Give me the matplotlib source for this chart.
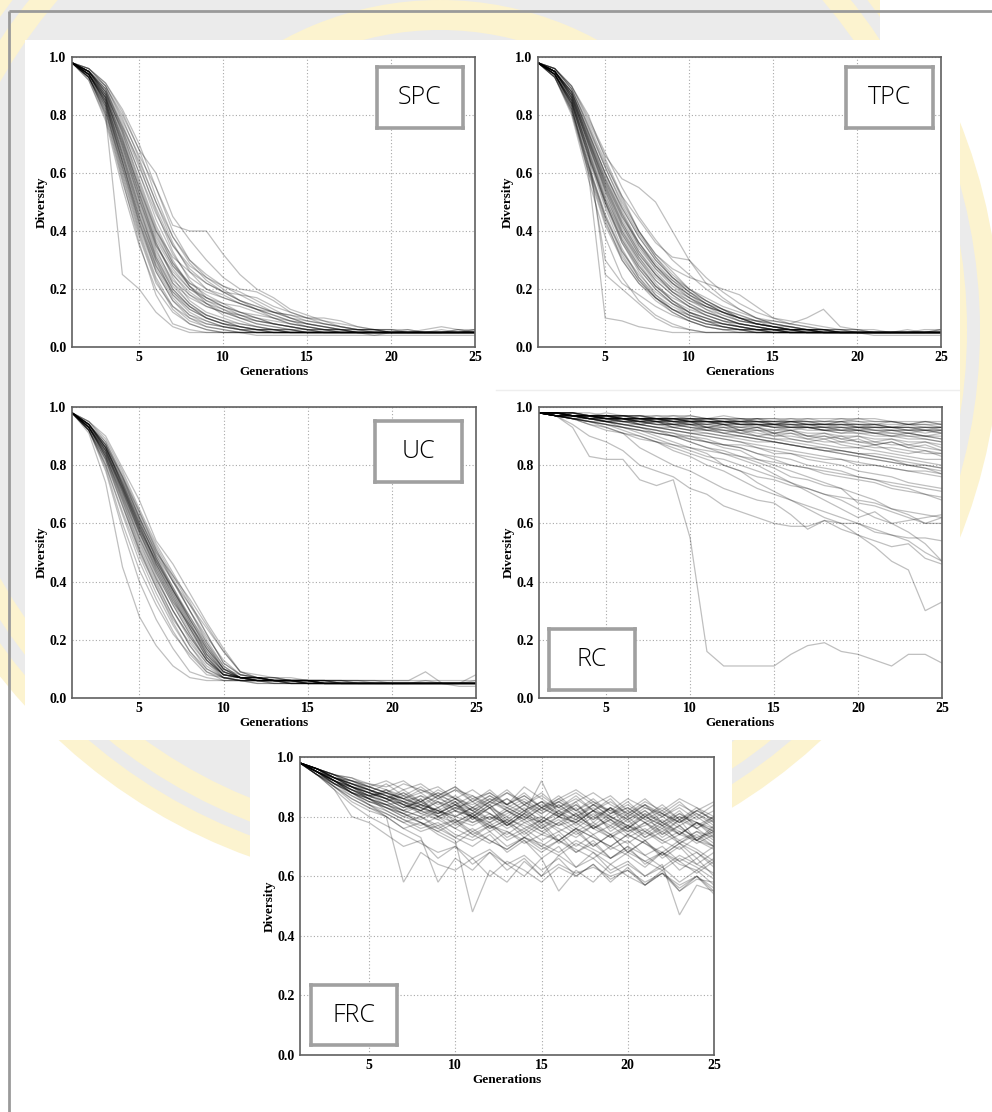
import numpy as np
import matplotlib
matplotlib.use("Agg")
import matplotlib.pyplot as plt
from matplotlib.patches import Rectangle, Circle, Wedge

# ---------------- data (diversity x100, generations 1..25) ----------------
GENERATIONS = list(range(1, 26))
X_TICKS = [5, 10, 15, 20, 25]
Y_TICKS = [0.0, 0.2, 0.4, 0.6, 0.8, 1.0]
Y_TICK_LABELS = ["0.0", "0.2", "0.4", "0.6", "0.8", "1.0"]
PANEL_LABELS = ["SPC", "TPC", "UC", "RC", "FRC"]

SPC_RUNS = [
    "98 94 85 68 50 34 22 15 11 09 07 06 06 05 05 05 05 05 05 05 05 05 05 05 05",
    "98 95 88 74 58 42 30 21 15 11 09 07 06 06 05 05 05 05 05 05 06 05 05 05 06",
    "98 92 78 55 35 20 12 08 06 05 05 05 05 05 05 05 05 05 05 05 05 05 05 05 05",
    "98 93 80 25 20 12 07 05 05 05 05 05 05 05 05 05 05 05 04 05 05 05 05 05 05",
    "98 95 90 78 66 55 42 40 40 32 25 20 17 13 11 09 07 06 06 05 05 05 05 05 05",
    "98 96 90 80 68 60 45 37 30 24 20 19 16 12 10 08 07 06 06 06 05 05 05 06 06",
    "98 94 84 64 45 30 20 14 10 08 07 06 06 06 05 05 05 05 05 05 05 05 05 05 05",
    "98 93 82 60 40 24 14 09 07 06 05 05 05 05 05 05 05 05 05 05 05 05 05 05 05",
    "98 95 87 72 54 38 28 22 18 15 12 10 08 07 06 06 05 05 05 05 05 05 05 05 05",
    "98 94 86 70 52 36 25 18 14 12 11 10 09 08 07 06 06 05 05 05 05 05 05 05 05",
    "98 95 89 76 62 48 35 27 22 19 18 17 14 12 10 09 08 07 06 06 06 05 05 05 05",
    "98 93 80 58 36 18 08 06 05 05 05 05 05 05 05 05 05 05 05 05 05 05 05 05 05",
    "98 94 85 66 46 30 18 12 09 07 06 06 05 05 05 05 05 05 05 05 05 05 05 05 05",
    "98 96 91 82 70 55 40 30 24 20 16 14 12 11 10 10 09 07 06 06 05 05 06 05 05",
    "98 94 83 63 44 28 18 13 10 08 07 06 06 05 05 05 05 05 05 05 05 05 05 05 05",
    "98 95 88 73 56 40 31 26 22 19 16 13 10 08 07 06 06 05 05 05 05 05 05 05 05",
    "98 93 81 62 42 27 17 11 08 07 06 05 05 05 05 05 05 05 05 05 05 05 05 05 05",
    "98 95 86 69 51 35 26 20 17 15 14 12 10 09 08 07 06 06 05 05 05 05 05 05 05",
    "98 94 87 75 60 44 32 24 20 18 15 13 11 09 08 07 06 06 06 05 05 06 07 06 05",
    "98 92 79 57 38 22 14 10 08 07 06 05 05 05 05 05 05 05 05 05 05 05 05 05 05",
    "98 95 86 70 53 36 24 16 12 10 08 07 06 05 05 05 05 05 05 05 05 05 05 05 05",
    "98 94 84 66 48 32 22 17 14 12 10 08 07 06 06 05 05 05 05 05 05 05 05 05 05",
    "98 93 83 64 43 26 16 10 07 06 05 04 04 04 04 04 04 04 04 04 04 04 04 04 04",
    "98 95 88 76 64 50 38 30 25 21 18 15 12 10 09 08 07 06 06 05 05 05 05 05 05",
    "98 94 86 71 55 40 29 21 16 13 10 08 07 06 05 05 05 05 05 05 05 05 05 05 05",
    "98 95 89 77 63 47 33 23 17 14 12 10 08 07 06 05 05 05 05 05 05 05 05 05 05",
    "98 93 82 61 41 26 16 11 09 07 06 06 05 05 05 05 05 05 05 05 05 05 05 05 05",
    "98 94 85 67 49 33 23 18 15 13 11 09 08 07 06 06 05 05 05 05 05 05 05 05 05",
    "98 96 90 79 65 50 36 26 20 17 15 13 12 11 09 08 07 06 06 05 05 05 05 05 05",
    "98 94 84 65 47 31 21 15 11 09 08 07 06 06 05 05 05 05 05 05 05 05 05 05 05",
    "98 95 87 71 53 37 27 20 16 14 12 11 10 08 07 06 06 05 05 05 05 05 05 06 05",
    "98 93 81 59 39 23 13 08 06 05 05 05 05 05 05 05 05 05 05 05 05 05 05 05 05",
    "98 95 88 74 57 41 29 22 19 17 15 13 11 09 07 06 06 05 05 05 05 05 05 05 05",
    "98 94 86 69 51 35 25 19 15 12 10 09 08 07 06 06 05 05 05 05 05 05 05 05 06",
    "98 96 91 81 68 52 38 29 23 19 16 14 12 10 08 07 06 06 05 05 05 05 05 05 05",
    "98 93 83 62 43 28 19 14 11 09 07 06 05 05 05 05 05 05 05 05 05 05 05 05 05",
    "98 95 87 72 55 39 28 21 17 14 11 09 08 07 06 05 05 05 05 05 05 05 05 05 05",
    "98 94 85 67 48 31 20 14 10 08 06 05 05 05 05 05 05 05 05 05 05 05 05 05 05",
    "98 95 89 75 60 46 35 28 24 21 19 16 13 10 08 07 06 05 05 05 05 05 05 05 05",
    "98 94 84 64 45 29 19 13 10 08 07 06 06 05 05 05 05 05 05 05 05 05 05 05 05",
]

TPC_RUNS = [
    "98 95 86 70 54 40 30 22 16 12 10 08 07 06 06 05 05 05 05 05 05 05 05 05 05",
    "98 94 83 60 10 09 07 06 05 05 05 05 05 05 05 05 05 05 05 05 05 05 05 05 05",
    "98 95 85 68 25 20 15 10 07 06 05 05 05 05 05 05 05 05 05 05 05 05 05 05 05",
    "98 96 90 78 66 58 55 50 40 30 22 17 13 10 09 08 07 06 06 06 06 05 05 06 06",
    "98 95 88 75 62 50 40 32 26 20 16 13 10 08 07 06 06 06 05 05 05 05 05 05 05",
    "98 94 84 66 50 36 26 18 13 10 08 07 06 06 05 05 05 05 05 05 05 05 05 05 05",
    "98 95 87 72 57 44 34 27 22 18 15 12 10 08 07 06 06 06 05 05 05 05 05 05 05",
    "98 93 80 58 38 24 16 11 08 06 05 05 05 05 05 05 05 05 05 05 05 05 05 05 05",
    "98 96 89 76 63 52 44 36 31 30 24 19 15 12 10 09 08 07 06 06 05 05 05 05 06",
    "98 94 85 68 52 40 31 24 19 16 13 11 09 08 07 07 06 06 05 05 05 05 05 05 05",
    "98 95 86 71 56 43 33 26 20 16 14 12 10 09 09 08 10 13 07 06 05 05 05 05 05",
    "98 94 82 62 44 30 22 16 12 09 07 06 06 05 05 05 05 05 05 05 05 05 05 05 05",
    "98 95 88 74 60 48 38 30 24 20 17 14 12 10 08 07 06 06 06 05 05 05 05 05 05",
    "98 93 81 60 42 30 22 17 13 10 08 07 06 06 05 05 05 05 05 05 05 05 05 05 05",
    "98 95 87 73 58 46 36 28 22 18 15 13 11 09 07 06 06 05 05 05 05 05 06 05 05",
    "98 94 84 65 48 34 24 17 12 09 07 06 05 05 05 05 05 05 05 05 05 05 05 05 05",
    "98 96 90 80 65 52 40 32 27 24 22 20 18 14 10 08 07 06 06 05 05 05 05 05 05",
    "98 94 83 64 30 22 18 14 11 09 07 06 06 05 05 05 05 05 05 05 05 05 05 05 05",
    "98 95 86 70 55 42 32 25 20 17 14 12 10 09 08 07 06 06 05 05 05 05 05 05 05",
    "98 93 82 63 46 33 24 18 14 11 09 07 06 05 05 05 05 05 05 05 04 04 04 04 04",
    "98 95 88 74 60 48 38 30 24 19 15 12 09 08 07 06 06 05 05 05 05 05 05 05 05",
    "98 94 85 69 53 39 29 21 16 13 11 09 08 07 06 06 06 05 05 05 05 05 05 05 06",
    "98 95 87 72 56 43 33 25 19 15 12 10 08 07 06 06 05 05 05 05 05 05 05 05 05",
    "98 94 84 67 50 37 27 20 15 12 10 08 07 06 06 05 05 05 05 05 05 05 05 05 05",
    "98 95 87 71 55 42 32 25 19 15 12 10 08 07 06 06 05 05 05 05 05 05 05 05 05",
    "98 94 84 66 49 36 27 20 15 11 09 07 06 06 05 05 05 05 05 05 05 05 05 05 05",
    "98 96 89 77 64 51 40 31 24 19 15 12 10 08 07 06 06 05 05 05 05 05 05 05 05",
    "98 94 83 63 45 32 23 17 13 10 08 07 06 06 05 05 05 05 05 05 05 05 05 05 05",
    "98 95 88 73 59 46 35 27 21 17 14 12 10 08 07 06 06 05 05 05 05 05 05 05 05",
    "98 95 86 70 54 41 31 23 18 14 11 09 08 07 06 06 05 05 05 05 05 05 05 05 05",
    "98 93 81 61 43 31 23 17 13 11 09 08 07 06 06 05 05 05 05 05 05 05 05 05 05",
    "98 96 90 79 67 55 45 37 30 25 20 16 13 10 08 07 06 06 05 05 05 05 05 05 05",
    "98 94 85 68 51 38 28 21 16 12 09 08 07 06 06 05 05 05 05 05 05 05 05 05 05",
    "98 95 87 72 58 45 35 28 23 19 16 13 11 09 08 07 06 06 05 05 05 05 05 05 05",
    "98 94 84 66 50 37 28 21 17 14 12 10 08 07 06 06 05 05 05 05 05 05 05 05 05",
    "98 95 88 74 60 47 36 28 22 17 13 10 08 07 06 06 05 05 05 05 05 05 05 05 05",
    "98 93 82 62 45 33 25 19 15 12 10 08 07 06 06 05 05 05 05 05 05 05 05 05 05",
    "98 95 86 71 57 45 36 29 23 18 14 11 09 08 07 06 06 05 05 05 05 05 05 05 05",
    "98 94 85 67 51 39 30 23 18 14 11 09 07 06 06 05 05 05 05 05 05 05 05 05 05",
    "98 96 89 76 62 49 39 31 25 20 16 13 10 08 07 06 06 05 05 05 05 05 05 05 05",
]

UC_RUNS = [
    "98 93 84 72 58 45 34 24 14 08 07 06 06 06 06 05 05 05 05 05 05 05 05 05 05",
    "98 92 80 63 47 34 23 14 08 07 06 06 06 05 05 05 05 05 05 05 05 05 05 05 05",
    "98 94 87 76 63 51 40 30 20 11 07 07 06 06 06 06 06 05 05 05 05 05 05 05 05",
    "98 91 74 45 28 18 11 07 06 06 06 05 05 05 05 05 05 05 05 05 05 05 05 05 05",
    "98 95 90 79 68 54 46 36 26 17 09 07 07 06 06 06 06 06 06 05 05 06 05 05 06",
    "98 93 83 70 56 43 32 22 13 07 07 06 06 06 05 05 05 05 05 05 05 05 05 05 05",
    "98 94 86 74 60 48 38 27 17 10 07 07 06 06 06 05 05 05 05 05 05 05 05 05 05",
    "98 92 78 58 40 27 17 09 07 06 06 06 05 05 05 05 05 05 05 05 05 05 05 05 05",
    "98 93 85 73 60 49 40 32 24 16 09 07 06 06 06 06 05 05 05 05 05 05 05 05 05",
    "98 94 88 77 64 52 42 32 22 12 08 07 07 06 06 06 06 06 06 06 06 09 05 05 05",
    "98 93 82 68 52 40 28 18 10 07 06 06 06 05 05 05 05 05 05 05 05 05 05 05 05",
    "98 92 81 66 50 38 27 19 12 08 07 06 06 06 05 05 05 05 05 05 05 05 05 05 05",
    "98 94 86 75 62 50 40 30 21 13 08 07 06 06 06 06 06 06 05 05 05 05 05 05 05",
    "98 93 84 70 55 42 30 20 12 07 06 06 05 05 05 05 05 05 05 05 05 05 05 04 04",
    "98 95 88 76 62 50 42 34 25 16 09 08 07 07 06 06 06 06 06 06 06 06 06 06 06",
    "98 93 83 69 54 41 30 21 13 08 07 06 06 06 06 05 05 05 05 05 05 05 05 05 05",
    "98 92 79 60 44 32 22 15 09 06 06 05 05 05 05 05 05 05 05 05 05 05 05 05 05",
    "98 94 85 72 58 47 37 28 19 11 07 07 06 06 06 06 05 05 05 05 05 05 05 05 05",
    "98 93 84 71 57 44 33 25 17 09 07 06 06 06 05 05 05 05 05 05 05 05 05 05 05",
    "98 94 87 73 59 46 36 26 16 09 07 07 06 06 06 05 05 05 05 05 05 05 05 05 08",
    "98 93 86 74 61 48 37 26 15 08 07 06 06 06 05 05 05 05 05 05 05 05 05 05 05",
    "98 92 82 67 51 38 26 16 09 07 06 06 06 05 05 05 05 05 05 05 05 05 05 05 05",
    "98 93 85 72 59 47 36 25 15 09 07 07 06 06 06 05 05 05 05 05 05 05 05 05 05",
    "98 94 86 73 60 46 35 24 14 08 07 06 06 06 05 05 05 05 05 05 05 05 05 05 05",
    "98 93 83 69 55 43 32 22 13 08 07 06 06 06 06 05 05 05 05 05 05 05 05 05 05",
    "98 94 87 75 62 49 38 28 18 10 07 07 06 06 06 06 05 05 05 05 05 05 05 05 05",
    "98 92 80 64 49 36 25 16 10 07 06 06 06 05 05 05 05 05 05 05 05 05 05 05 05",
    "98 94 86 74 61 48 37 27 17 10 07 07 06 06 06 05 05 05 05 05 05 05 05 05 05",
    "98 93 84 71 57 44 33 23 14 08 07 06 06 06 05 05 05 05 05 05 05 05 05 05 05",
    "98 95 89 78 65 53 43 33 22 12 08 07 07 06 06 06 06 05 05 05 05 05 05 05 05",
    "98 93 85 72 58 46 35 25 16 09 07 06 06 06 06 05 05 05 05 05 05 05 05 05 05",
    "98 94 85 71 57 45 34 24 15 09 07 07 06 06 06 05 05 05 05 05 05 05 05 05 05",
    "98 93 83 68 53 41 30 21 13 08 07 06 06 06 05 05 05 05 05 05 05 05 05 05 05",
    "98 94 87 76 64 51 41 30 19 10 08 07 06 06 06 06 05 05 05 05 05 05 05 05 05",
    "98 92 82 66 51 39 28 18 11 07 06 06 06 05 05 05 05 05 05 05 05 05 05 05 05",
    "98 94 86 73 59 47 37 27 18 10 07 07 06 06 06 05 05 05 05 05 05 05 05 05 05",
]

RC_RUNS = [
    "98 97 93 83 82 82 75 73 75 55 16 11 11 11 11 15 18 19 16 15 13 11 15 15 12",
    "98 97 94 90 88 85 80 78 76 72 70 66 64 62 60 59 59 61 60 60 58 56 55 55 54",
    "98 97 96 94 92 91 86 83 80 78 75 72 70 68 67 63 58 61 58 56 54 52 53 48 46",
    "98 98 97 96 95 93 92 90 88 86 84 80 78 74 71 68 65 62 60 56 52 47 44 30 33",
    "98 97 96 95 95 94 93 91 90 88 86 85 83 81 79 76 75 73 72 70 68 65 63 60 62",
    "98 98 97 97 96 96 95 95 95 94 94 94 93 93 92 93 92 92 91 91 90 90 89 89 88",
    "98 98 97 97 97 96 96 97 96 95 96 95 95 96 94 95 94 94 95 93 94 93 93 92 93",
    "98 97 96 95 94 93 92 91 90 90 89 87 87 86 84 84 83 82 82 80 80 79 78 77 76",
    "98 98 97 97 96 96 95 94 94 93 92 92 91 90 89 89 88 87 86 86 85 84 83 82 82",
    "98 97 96 96 95 94 93 92 91 89 88 86 85 82 80 78 76 74 72 67 66 64 62 60 60",
    "98 98 98 97 97 97 97 96 96 96 96 96 96 95 95 95 95 95 95 95 95 95 94 94 94",
    "98 97 96 94 93 91 89 88 85 83 80 78 75 72 70 68 66 64 62 60 57 56 54 50 47",
    "98 98 97 97 96 96 95 95 94 94 93 93 92 92 91 91 90 90 89 88 88 87 87 86 85",
    "98 97 97 96 95 94 93 92 91 90 88 87 86 84 83 82 80 79 78 76 75 73 72 70 69",
    "98 98 97 97 96 96 96 95 95 94 94 93 93 92 92 92 91 91 90 90 89 89 88 88 87",
    "98 97 96 95 93 91 90 88 87 85 83 82 80 78 76 74 72 70 68 65 62 60 57 53 47",
    "98 98 98 97 97 97 96 96 96 96 95 95 95 95 95 94 94 94 94 94 93 93 93 93 93",
    "98 97 97 96 96 95 95 94 93 92 92 91 90 89 88 87 86 85 84 83 82 81 80 79 78",
    "98 98 97 97 97 96 96 96 95 95 95 94 94 94 93 93 93 92 92 92 91 91 90 90 90",
    "98 97 96 95 94 93 91 89 87 86 85 84 83 82 81 80 79 78 77 76 75 74 73 72 71",
    "98 98 97 96 96 95 95 94 94 93 92 91 90 89 88 87 86 85 84 83 82 81 80 80 79",
    "98 98 98 97 97 97 96 96 96 96 96 95 95 95 95 95 95 94 94 94 94 94 94 94 93",
    "98 97 97 96 95 94 93 92 90 88 86 84 82 80 77 74 71 68 65 62 64 60 61 62 63",
    "98 98 97 97 96 96 96 96 95 95 95 95 94 94 94 94 93 93 93 93 92 92 92 92 91",
    "98 97 96 95 94 93 92 91 90 89 88 87 86 84 82 80 79 77 76 75 74 72 71 70 68",
    "98 98 98 98 97 97 97 97 97 97 96 96 96 96 96 96 96 96 96 96 96 95 95 95 95",
    "98 98 97 97 97 97 96 96 96 95 95 95 94 94 94 93 93 93 92 92 92 91 91 90 89",
    "98 97 97 96 96 95 94 93 92 91 90 89 88 87 86 85 84 83 82 81 80 79 78 78 77",
    "98 97 97 97 96 96 96 95 95 96 95 95 94 95 94 94 94 93 94 93 93 93 92 93 92",
    "98 98 97 96 95 95 94 93 92 91 91 90 89 88 88 87 86 85 85 84 84 83 82 81 80",
    "98 98 97 97 96 97 96 95 96 95 95 94 95 94 94 93 94 93 93 92 93 92 92 91 92",
    "98 97 98 96 97 96 95 96 95 94 95 94 93 94 93 92 93 92 91 92 91 90 91 90 89",
    "98 98 97 96 97 95 96 95 94 95 93 94 92 93 91 92 90 91 89 90 88 89 87 88 86",
    "98 97 97 96 95 96 94 95 93 94 92 93 91 92 90 91 89 90 88 89 87 88 86 87 85",
    "98 98 98 97 98 97 97 96 97 96 96 97 96 96 95 96 95 95 96 95 94 95 94 95 94",
    "98 97 96 97 95 96 94 95 93 92 93 91 92 90 91 89 88 89 87 86 87 85 84 85 83",
    "98 98 97 97 96 96 95 96 94 95 93 94 92 93 91 92 90 89 90 88 87 88 86 85 84",
    "98 97 97 96 96 95 95 94 94 93 93 92 91 90 89 88 87 86 85 84 83 82 80 79 77",
    "98 98 98 97 97 96 96 96 95 95 95 94 94 94 93 93 93 92 92 91 91 90 90 89 88",
    "98 97 96 96 95 94 94 93 92 91 90 89 88 86 85 84 82 81 80 78 77 76 74 73 72",
    "98 98 97 97 97 97 97 96 96 96 96 96 95 95 95 95 95 94 94 94 94 93 93 93 93",
    "98 97 97 96 95 95 94 93 93 92 91 90 90 89 88 87 86 86 85 84 83 82 81 80 79",
    "98 98 98 97 97 96 96 96 96 95 95 95 95 94 94 94 94 94 93 93 93 93 92 92 92",
    "98 97 96 95 94 92 90 88 86 84 82 80 78 76 75 73 72 70 69 68 67 65 64 63 62",
    "98 98 97 97 96 96 95 95 94 94 93 92 92 91 90 90 89 88 88 87 86 86 85 84 84",
    "98 97 97 97 97 96 96 96 96 95 96 95 95 95 94 95 94 94 94 93 93 93 93 92 92",
    "98 98 97 97 97 96 97 96 96 97 96 96 95 96 96 95 96 95 95 96 95 95 94 95 94",
    "98 97 97 96 97 96 96 95 96 95 94 95 94 94 93 94 93 93 92 93 92 92 91 92 91",
    "98 98 98 97 96 97 96 96 95 96 95 95 96 95 94 95 94 94 95 94 94 93 94 93 93",
    "98 97 97 97 96 96 95 96 95 95 94 95 94 93 94 93 93 92 93 92 91 92 91 90 91",
]

FRC_RUNS = [
    "98 95 92 90 89 87 84 82 85 80 83 79 82 78 80 77 81 76 79 74 78 73 77 72 75",
    "98 96 93 92 90 88 86 88 84 87 83 86 82 85 81 84 80 83 79 82 78 81 77 80 76",
    "98 94 90 87 84 82 79 76 78 74 72 75 70 73 69 72 68 71 66 69 65 68 64 62 66",
    "98 95 91 88 86 89 85 83 87 82 80 84 78 82 77 80 83 76 79 75 78 74 77 72 70",
    "98 96 94 93 91 90 92 88 90 86 89 85 88 84 87 83 86 82 85 81 84 80 83 79 82",
    "98 94 89 80 78 74 70 72 66 70 64 68 62 66 60 64 61 63 60 62 58 61 57 60 56",
    "98 95 92 89 87 85 88 84 82 85 79 83 77 81 76 80 78 82 75 79 73 77 71 75 73",
    "98 96 93 91 89 86 83 85 81 84 80 83 86 82 85 80 84 79 83 78 82 77 80 76 79",
    "98 95 90 86 83 80 58 68 64 62 66 60 65 62 58 63 60 64 59 62 57 61 56 60 55",
    "98 94 91 88 85 83 80 78 75 72 48 62 58 65 60 67 63 66 61 64 60 63 58 62 57",
    "98 96 94 92 90 88 86 89 87 90 86 88 84 87 83 85 88 84 87 82 86 81 85 80 84",
    "98 95 92 90 87 85 82 80 77 79 75 78 73 76 72 75 70 74 69 72 67 70 65 68 63",
    "98 96 93 90 88 86 84 81 83 78 81 76 79 74 78 72 76 70 74 68 72 66 70 64 68",
    "98 95 91 88 85 83 81 78 76 73 70 74 68 72 66 70 63 68 62 65 60 64 47 57 55",
    "98 96 94 92 91 89 87 85 88 86 84 87 83 86 82 85 81 84 80 83 79 82 78 81 77",
    "98 95 92 89 86 84 82 84 80 82 78 81 77 80 76 79 75 78 74 77 73 76 72 75 71",
    "98 94 90 85 82 80 76 73 58 66 62 68 64 60 66 55 62 58 64 60 57 61 55 59 58",
    "98 96 93 91 90 92 89 91 87 90 85 89 84 88 83 87 82 86 81 85 80 84 79 83 78",
    "98 95 92 88 86 83 81 79 82 77 80 75 78 73 77 71 75 70 74 68 72 67 71 66 70",
    "98 96 94 91 89 87 85 87 83 86 82 85 89 84 88 83 87 82 86 80 84 78 82 76 80",
    "98 95 91 87 84 81 78 80 76 79 74 77 72 75 70 74 68 72 66 70 64 68 62 66 60",
    "98 96 93 90 88 91 87 90 86 89 85 88 84 87 83 86 82 85 81 84 80 83 79 82 85",
    "98 95 92 89 87 84 82 86 81 85 80 84 79 83 78 82 77 81 76 80 75 79 74 78 73",
    "98 94 89 84 80 77 74 71 68 70 66 69 64 67 62 66 60 64 58 63 57 62 55 60 54",
    "98 96 93 91 89 87 85 83 81 84 79 83 77 81 92 80 85 78 83 76 81 74 79 72 77",
    "98 95 93 90 88 86 84 82 80 78 81 77 80 76 79 75 78 74 77 73 76 72 75 71 74",
    "98 96 94 92 90 88 86 84 82 80 78 80 76 79 75 78 74 77 73 76 72 75 71 74 70",
    "98 95 92 90 88 86 89 85 88 84 87 83 86 82 85 81 84 80 83 79 82 78 81 77 80",
    "98 95 93 91 88 86 83 86 80 83 85 81 78 82 79 84 80 77 81 83 79 76 80 78 74",
    "98 96 92 89 87 88 84 82 85 83 80 78 81 84 80 77 79 82 78 75 77 80 76 73 75",
    "98 95 91 90 86 84 85 81 79 82 80 76 79 77 74 78 81 76 73 77 75 71 74 72 69",
    "98 94 92 88 87 85 82 80 83 86 82 79 83 80 78 81 79 84 80 77 81 78 74 78 76",
    "98 96 93 91 89 87 84 87 85 82 86 83 80 84 81 85 82 79 83 80 84 81 78 82 79",
    "98 95 92 89 86 82 79 77 80 76 73 77 75 71 74 72 76 73 70 74 71 68 72 69 65",
    "98 96 94 90 88 85 87 83 81 84 82 78 82 79 83 80 76 80 77 81 78 75 79 76 72",
    "98 95 91 88 84 80 76 78 74 71 75 72 69 73 70 67 71 68 64 68 65 62 66 63 59",
    "98 96 93 92 89 86 88 85 89 86 83 87 84 90 86 82 85 88 84 81 85 82 86 83 80",
    "98 94 90 86 83 81 78 75 77 73 76 72 69 73 71 68 72 69 66 70 67 63 67 64 61",
    "98 95 92 90 87 88 86 83 80 83 81 85 82 79 83 80 78 82 79 76 80 77 81 78 75",
    "98 96 94 93 90 88 91 89 86 89 87 84 88 85 82 86 89 85 82 86 83 80 84 81 78",
    "98 95 92 88 85 84 81 84 82 79 77 80 78 75 79 76 73 77 74 71 75 72 69 73 70",
    "98 94 91 89 86 83 80 82 79 76 80 77 74 78 75 72 76 73 70 74 71 67 71 68 64",
    "98 96 93 90 88 86 83 85 82 80 83 81 77 81 78 82 79 76 80 77 74 78 75 72 76",
    "98 95 93 91 89 87 85 82 86 84 81 85 83 80 84 81 78 82 80 76 80 77 74 78 75",
    "98 96 92 88 86 84 81 78 75 78 74 71 75 72 68 72 69 66 70 67 63 68 65 61 65",
    "98 95 93 90 87 89 86 84 87 85 82 86 84 81 85 83 80 84 82 79 83 81 78 82 79",
]

PANEL_RUNS = [SPC_RUNS, TPC_RUNS, UC_RUNS, RC_RUNS, FRC_RUNS]

# ---------------- layout (pixels) ----------------
W, H = 992, 1112
fig = plt.figure(figsize=(W / 100, H / 100), dpi=100)
fig.patch.set_facecolor("white")

def fx(x):
    return x / W

def fy(y):
    return 1 - y / H

# background watermark (page scan) ------------------------------------------
bg = fig.add_axes([0, 0, 1, 1], zorder=-10)
bg.set_xlim(0, W)
bg.set_ylim(H, 0)
bg.axis("off")
cx, cy = 440, 330
bg.add_patch(Circle((cx, cy), 560, color="#fcf3cf", lw=0))
bg.add_patch(Circle((cx, cy), 540, color="#ebebeb", lw=0))
bg.add_patch(Circle((cx, cy), 527, color="#fcf3cf", lw=0))
bg.add_patch(Circle((cx, cy), 505, color="#ebebeb", lw=0))
for r0, r1 in [(300, 330), (200, 225)]:
    bg.add_patch(Wedge((cx, cy), r1, 0, 360, width=r1 - r0, color="#fcf3cf", lw=0))
# white plot images
bg.add_patch(Rectangle((25, 40), 935, 700, color="white", lw=0))
bg.add_patch(Rectangle((250, 740), 482, 372, color="white", lw=0))
bg.add_patch(Rectangle((880, 0), 112, 40, color="white", lw=0))
bg.plot([496, 959], [390, 390], color="#eeeeee", lw=1)
# page frame
bg.plot([9, 9], [11, H], color="#9a9a9a", lw=2, solid_capstyle="butt")
bg.plot([9, W], [11, 11], color="#9a9a9a", lw=2, solid_capstyle="butt")

# axes boxes: (left, top, right, bottom) px
AX_BOXES = [
    (72, 57, 475, 347),
    (538, 57, 941, 347),
    (72, 407, 476, 698),
    (539, 407, 942, 698),
    (300, 757, 714, 1055),
]
# label boxes (left, top, right, bottom) px
LABEL_BOXES = [
    (377, 67, 463, 128),
    (846, 67, 933, 128),
    (375, 421, 462, 482),
    (549, 629, 635, 690),
    (311, 985, 397, 1045),
]

serif = ["Liberation Serif", "DejaVu Serif"]
x = np.array(GENERATIONS)

for runs, (l, t, r, b), label, (bl, bt, br, bb) in zip(PANEL_RUNS, AX_BOXES, PANEL_LABELS, LABEL_BOXES):
    ax = fig.add_axes([fx(l), fy(b), fx(r - l), (b - t) / H])
    ax.set_facecolor("white")
    for s in runs:
        y = np.array([int(v) for v in s.split()]) / 100.0
        ax.plot(x, y, color="black", alpha=0.25, lw=0.9, solid_joinstyle="miter")
    ax.set_xlim(1, 25)
    ax.set_ylim(0, 1)
    ax.set_xticks(X_TICKS)
    ax.set_yticks(Y_TICKS)
    ax.set_yticklabels(Y_TICK_LABELS)
    ax.grid(True, linestyle=(0, (1, 2)), color="#a8a8a8", lw=0.8)
    ax.tick_params(axis="x", length=0, pad=3, labelsize=10)
    ax.tick_params(axis="y", length=0, pad=4, labelsize=10)
    for lab in ax.get_xticklabels() + ax.get_yticklabels():
        lab.set_fontfamily(serif)
        lab.set_fontweight("bold")
    for sp in ax.spines.values():
        sp.set_color("#606060")
        sp.set_linewidth(1.2)
    ax.set_xlabel("Generations", fontsize=9.5, fontweight="bold", family=serif, labelpad=1)
    ax.set_ylabel("Diversity", fontsize=9.5, fontweight="bold", family=serif, labelpad=1)

    # panel label box
    lax = fig.add_axes([fx(bl), fy(bb), fx(br - bl), (bb - bt) / H], zorder=5)
    lax.set_xlim(0, 1)
    lax.set_ylim(0, 1)
    lax.set_xticks([])
    lax.set_yticks([])
    lax.set_facecolor("white")
    for sp in lax.spines.values():
        sp.set_color("#a0a0a0")
        sp.set_linewidth(2.6)
    lax.text(0.5, 0.5, label, ha="center", va="center", fontsize=18,
             family=["Open Sans", "DejaVu Sans"], fontweight="light", color="black")

fig.savefig("out.png", dpi=100, facecolor=fig.get_facecolor())
